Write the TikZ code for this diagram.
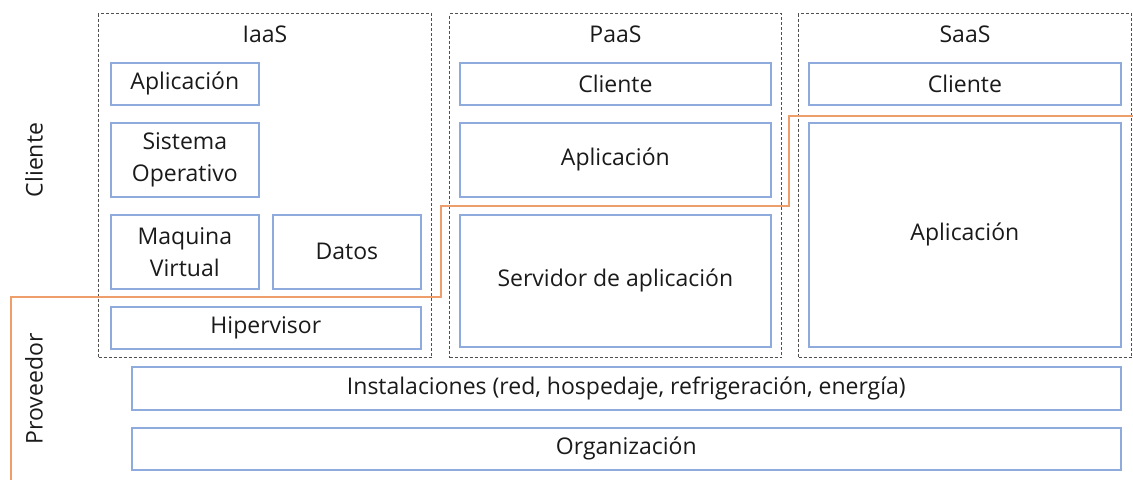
\documentclass[tikz,border=0pt]{standalone}
\usepackage{fontspec}
\setmainfont{Open Sans}
\definecolor{layerblue}{HTML}{8FAADC}
\definecolor{splitorange}{HTML}{EE9E6A}
\definecolor{groupgray}{HTML}{505050}
\definecolor{inktext}{HTML}{1A1A1A}

\tikzset{
  layer/.style={draw=layerblue, line width=1.7pt, anchor=north west, align=center,
    inner sep=0pt, text=inktext, font=\fontsize{23}{32}\selectfont},
  group/.style={draw=groupgray, line width=1pt, dash pattern=on 3pt off 2pt,
    anchor=north west, inner sep=0pt},
  grouptitle/.style={text=inktext, yshift=-21pt, font=\fontsize{23}{32}\selectfont},
  side/.style={rotate=90, text=inktext, font=\fontsize{23}{32}\selectfont},
  split/.style={draw=splitorange, line width=1.8pt}
}

\begin{document}
\begin{tikzpicture}[x=1pt, y=-1pt]
  \useasboundingbox (0,0) rectangle (1133,480);

  % service models
  \node[group, minimum width=333pt, minimum height=344pt] (iaas) at (98,13) {};
  \node[group, minimum width=332pt, minimum height=344pt] (paas) at (449,13) {};
  \node[group, minimum width=333pt, minimum height=344pt] (saas) at (798,13) {};
  \node[grouptitle] (iaastitle) at (iaas.north) {IaaS};
  \node[grouptitle] (paastitle) at (paas.north) {PaaS};
  \node[grouptitle] (saastitle) at (saas.north) {SaaS};

  % IaaS
  \node[layer, minimum width=148pt, minimum height=42pt] (iaasapp) at (110,62) {Aplicación};
  \node[layer, minimum width=148pt, minimum height=74pt] (iaasos) at (110,122) {Sistema\\Operativo};
  \node[layer, minimum width=148pt, minimum height=74pt] (iaasvm) at (110,214) {Maquina\\Virtual};
  \node[layer, minimum width=148pt, minimum height=74pt] (iaasdata) at (272,214) {Datos};
  \node[layer, minimum width=310pt, minimum height=42pt] (iaashyp) at (110,306) {Hipervisor};

  % PaaS
  \node[layer, minimum width=311pt, minimum height=42pt] (paascli) at (459,62) {Cliente};
  \node[layer, minimum width=311pt, minimum height=74pt] (paasapp) at (459,122) {Aplicación};
  \node[layer, minimum width=311pt, minimum height=132pt] (paassrv) at (459,214) {Servidor de aplicación};

  % SaaS
  \node[layer, minimum width=312pt, minimum height=42pt] (saascli) at (808,62) {Cliente};
  \node[layer, minimum width=312pt, minimum height=224pt] (saasapp) at (808,122) {Aplicación};

  % shared layers
  \node[layer, minimum width=989pt, minimum height=43pt] (infra) at (131,366) {Instalaciones (red, hospedaje, refrigeración, energía)};
  \node[layer, minimum width=989pt, minimum height=42pt] (org) at (131,427) {Organización};

  % responsibility split
  \node[side] (cliente) at (34,160) {Cliente};
  \node[side] (proveedor) at (34,389) {Proveedor};
  \coordinate (splitstart) at (11,480);
  \coordinate (splitend) at (1133,116);
  \draw[split] (splitstart) |- (441,297) |- (789,206) |- (splitend);
\end{tikzpicture}
\end{document}
